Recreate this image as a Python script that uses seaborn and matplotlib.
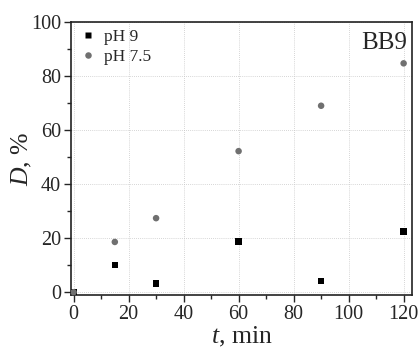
import matplotlib
matplotlib.use('Agg')
import matplotlib.pyplot as plt
import pandas as pd
import seaborn as sns
from matplotlib.ticker import MultipleLocator

# Data
t_min = [0, 15, 30, 60, 90, 120]
d_ph9 = [0, 10.0, 3.3, 18.8, 4.2, 22.4]
d_ph75 = [0, 18.6, 27.4, 52.2, 69.0, 84.7]
series = ['pH 9', 'pH 7.5']

df = pd.concat([
    pd.DataFrame({'t': t_min, 'D': d_ph9, 'series': series[0]}),
    pd.DataFrame({'t': t_min, 'D': d_ph75, 'series': series[1]}),
])

sns.set_style('white')
plt.rcParams['font.family'] = ['Liberation Serif', 'DejaVu Serif']
plt.rcParams['mathtext.fontset'] = 'custom'
plt.rcParams['mathtext.it'] = 'Liberation Serif:italic'
plt.rcParams['mathtext.rm'] = 'Liberation Serif'

fig = plt.figure(figsize=(4.19, 3.49), dpi=100)
ax = fig.add_axes([0.169, 0.155, 0.814, 0.782])

sns.scatterplot(data=df, x='t', y='D', hue='series', style='series',
                palette={'pH 9': 'black', 'pH 7.5': '#707070'},
                markers={'pH 9': 's', 'pH 7.5': 'o'},
                s=22, edgecolor='none', ax=ax, zorder=3)

ax.set_xlim(-1, 123)
ax.set_ylim(-1, 100)
ax.xaxis.set_major_locator(MultipleLocator(20))
ax.xaxis.set_minor_locator(MultipleLocator(10))
ax.yaxis.set_major_locator(MultipleLocator(20))
ax.yaxis.set_minor_locator(MultipleLocator(10))
ax.tick_params(axis='both', which='major', direction='out', length=5, width=1,
               labelsize=14.5, bottom=True, left=True, pad=2)
ax.tick_params(axis='both', which='minor', direction='out', length=3, width=1,
               bottom=True, left=True)
ax.grid(True, which='major', linestyle=(0, (1, 1.5)), color='#c8c8c8', linewidth=0.6)
for sp in ax.spines.values():
    sp.set_color('#222222')
    sp.set_linewidth(1.2)

ax.set_xlabel('$t$, min', fontsize=18.5, labelpad=1)
ax.set_ylabel('$D$, %', fontsize=18.5, labelpad=-2)

ax.legend(frameon=False, loc='upper left', fontsize=12.5, handletextpad=0.3,
          handlelength=1.2, borderaxespad=0.1, borderpad=0.3,
          labelspacing=0.2, markerscale=1.0)
ax.text(0.985, 0.965, 'BB9', transform=ax.transAxes, ha='right', va='top',
        fontsize=18)

fig.savefig('out.png', dpi=100)
